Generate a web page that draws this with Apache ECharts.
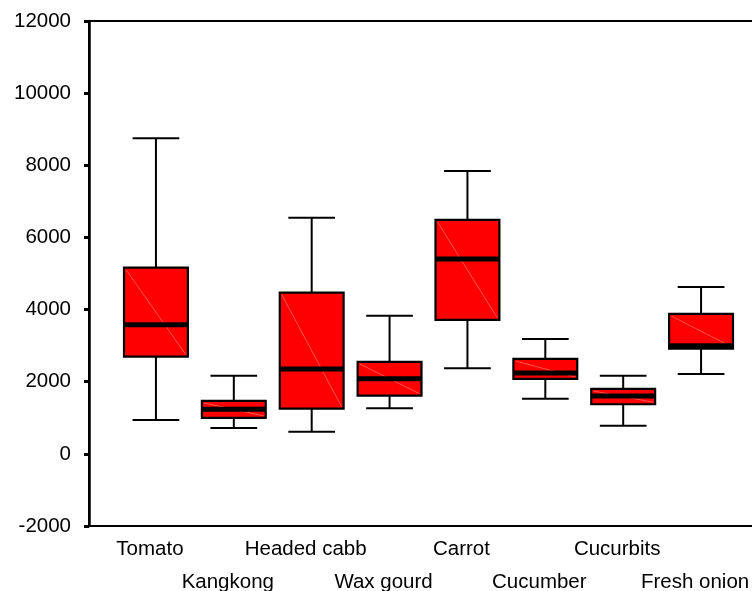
<!DOCTYPE html>
<html>
<head>
<meta charset="utf-8">
<script src="https://cdn.jsdelivr.net/npm/echarts@6/dist/echarts.min.js"></script>
<style>html,body{margin:0;padding:0;background:#fff}#c{width:752px;height:591px}</style>
</head>
<body>
<div id="c"></div>
<script>
var categories = ['Tomato','Kangkong','Headed cabb','Wax gourd','Carrot','Cucumber','Cucurbits','Fresh onion'];
var lows    = [940, 718, 616, 1264, 2373, 1530, 782, 2214];
var q1s     = [2695, 995, 1253, 1614, 3712, 2077, 1375, 2920];
var medians = [3582, 1236, 2354, 2085, 5403, 2245, 1605, 2995];
var q3s     = [5162, 1467, 4469, 2548, 6485, 2631, 1799, 3879];
var highs   = [8750, 2168, 6549, 3831, 7843, 3185, 2168, 4627];
var yMin = -2000, yMax = 12000, yStep = 2000;

var data = categories.map(function (c, i) {
  return [i, lows[i], q1s[i], medians[i], q3s[i], highs[i]];
});

var font = "'Liberation Sans', Arial, sans-serif";
var chart = echarts.init(document.getElementById('c'), null, {renderer: 'canvas'});

function renderItem(params, api) {
  var idx = api.value(0);
  var band = api.size([1, 0])[0];
  var bw = band * 0.82, cw = band * 0.6;
  var pLow = api.coord([idx, api.value(1)]);
  var pQ1 = api.coord([idx, api.value(2)]);
  var pMed = api.coord([idx, api.value(3)]);
  var pQ3 = api.coord([idx, api.value(4)]);
  var pHigh = api.coord([idx, api.value(5)]);
  var x = pQ1[0];
  var ls = {stroke: '#000', lineWidth: 2};
  return {
    type: 'group',
    children: [
      {type: 'line', shape: {x1: x, y1: pHigh[1], x2: x, y2: pQ3[1]}, style: ls},
      {type: 'line', shape: {x1: x - cw / 2, y1: pHigh[1], x2: x + cw / 2, y2: pHigh[1]}, style: ls},
      {type: 'line', shape: {x1: x, y1: pQ1[1], x2: x, y2: pLow[1]}, style: ls},
      {type: 'line', shape: {x1: x - cw / 2, y1: pLow[1], x2: x + cw / 2, y2: pLow[1]}, style: ls},
      {type: 'rect', shape: {x: x - bw / 2, y: pQ3[1], width: bw, height: pQ1[1] - pQ3[1]},
        style: {fill: '#ff0000', stroke: 'none'}},
      {type: 'line', shape: {x1: x - bw / 2 + 2, y1: pQ3[1] + 2, x2: x + bw / 2 - 2, y2: pQ1[1] - 2},
        style: {stroke: 'rgba(255,170,170,0.8)', lineWidth: 0.6}},
      {type: 'line', shape: {x1: x - bw / 2, y1: pMed[1], x2: x + bw / 2, y2: pMed[1]},
        style: {stroke: '#000', lineWidth: 5}},
      {type: 'rect', shape: {x: x - bw / 2, y: pQ3[1], width: bw, height: pQ1[1] - pQ3[1]},
        style: {fill: 'none', stroke: '#000', lineWidth: 2.2}}
    ]
  };
}

chart.setOption({
  animation: false,
  backgroundColor: '#fff',
  grid: [
    {left: 89, right: -5, top: 21, bottom: 65, show: true, borderColor: '#000', borderWidth: 2,
      backgroundColor: 'transparent', containLabel: false, outerBoundsMode: 'none'},
    {left: 117, right: 12, top: 21, bottom: 65, containLabel: false, outerBoundsMode: 'none'}
  ],
  xAxis: [
    {gridIndex: 0, type: 'value', min: 0, max: 1, show: false},
    {gridIndex: 1, type: 'category', data: categories, boundaryGap: true,
      axisLine: {show: false}, axisTick: {show: false}, splitLine: {show: false},
      axisLabel: {interval: 0, margin: 7, fontSize: 20.5, fontFamily: font, color: '#000',
        lineHeight: 33, padding: [0, 12, 0, 0], hideOverlap: false,
        formatter: function (v, i) { return i % 2 === 1 ? '\n' + v : v; }}}
  ],
  yAxis: [
    {gridIndex: 0, type: 'value', min: yMin, max: yMax, interval: yStep,
      axisLine: {show: true, lineStyle: {color: '#000', width: 2.5}},
      axisTick: {show: true, inside: false, length: 5, lineStyle: {color: '#000', width: 3}},
      splitLine: {show: false},
      axisLabel: {margin: 18, fontSize: 20.5, fontFamily: font, color: '#000', padding: [3, 0, 0, 0],
        formatter: function (v) { return String(v); }}},
    {gridIndex: 1, type: 'value', min: yMin, max: yMax, interval: yStep, show: false}
  ],
  series: [{
    type: 'custom',
    xAxisIndex: 1, yAxisIndex: 1,
    renderItem: renderItem,
    encode: {x: 0, y: [1, 2, 3, 4, 5]},
    data: data
  }]
});
</script>
</body>
</html>
